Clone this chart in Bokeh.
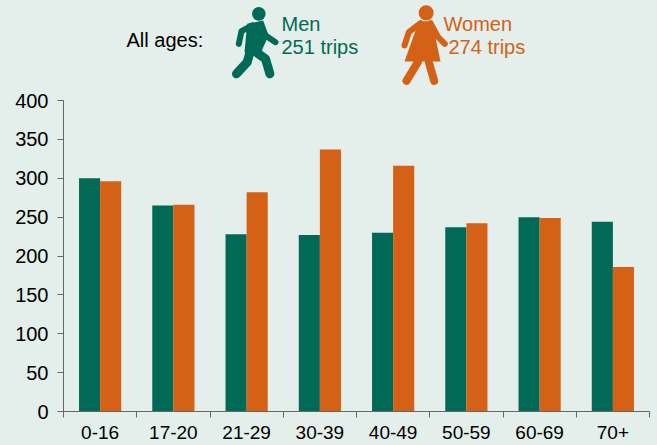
from bokeh.plotting import figure
from bokeh.layouts import column
from bokeh.models import Range1d, FixedTicker
from bokeh.core.properties import value
from bokeh.embed import file_html
from bokeh.resources import INLINE

categories = ["0-16", "17-20", "21-29", "30-39", "40-49", "50-59", "60-69", "70+"]
men = [300, 265, 228, 227, 230, 237, 250, 244]
women = [296, 266, 282, 337, 316, 242, 249, 186]
y_ticks = [0, 50, 100, 150, 200, 250, 300, 350, 400]

BG = "#E4EEEA"
GREEN = "#006A56"
ORANGE = "#D46115"
FONT = "Liberation Sans"
AXIS = "#666666"
W = 657
LEFT = 63
RIGHT = 8
HEAD_H = 88
CHART_H = 357

head = figure(width=W, height=HEAD_H, x_range=Range1d(LEFT, W - RIGHT), y_range=Range1d(HEAD_H, 0),
              output_backend="svg", toolbar_location=None, x_axis_location=None, y_axis_location=None,
              min_border_left=LEFT, min_border_right=RIGHT, min_border_top=0, min_border_bottom=0,
              outline_line_color=None, background_fill_color=BG, border_fill_color=BG)
head.grid.visible = False

def zx(v):
    return v / 3 + 110

def zy(v):
    return v / 3

def limb(points, color, width):
    head.line([zx(a) for a, b in points], [zy(b) for a, b in points], line_color=color,
              line_width=width, line_cap="round", line_join="round")

def dot(x, y, r, color):
    head.circle([zx(x)], [zy(y)], radius=r, fill_color=color, line_color=None)

# man
dot(445, 40, 6.8, GREEN)
head.patch([zx(a) for a in [410, 458, 474, 445, 402]], [zy(b) for b in [70, 60, 105, 170, 155]],
           fill_color=GREEN, line_color=None)
limb([(425, 75), (393, 92), (385, 130)], GREEN, 6)
limb([(450, 72), (465, 105), (495, 125)], GREEN, 6)
limb([(420, 150), (410, 185), (378, 220)], GREEN, 9)
limb([(430, 150), (465, 175), (478, 220)], GREEN, 9)

# woman
dot(947, 37, 7.5, ORANGE)
head.patch([zx(a) for a in [925, 965, 990, 882]], [zy(b) for b in [62, 62, 183, 183]],
           fill_color=ORANGE, line_color=None)
limb([(930, 68), (895, 95), (882, 135)], ORANGE, 6)
limb([(960, 68), (983, 110), (1003, 130)], ORANGE, 6)
limb([(922, 185), (888, 241)], ORANGE, 8)
limb([(955, 185), (971, 241)], ORANGE, 8)

def label(x, y, t, color):
    head.text([x], [y], text=[t], text_color=color, text_font=value(FONT),
              text_font_size="20px", text_baseline="middle", text_align="left")

label(126, 39, "All ages:", "#000000")
label(281, 23, "Men", GREEN)
label(281, 46, "251 trips", GREEN)
label(443, 23, "Women", ORANGE)
label(448, 46, "274 trips", ORANGE)

p = figure(width=W, height=CHART_H, x_range=Range1d(0, len(categories)), y_range=Range1d(0, 400),
           output_backend="svg", toolbar_location=None, min_border_left=LEFT, min_border_right=RIGHT,
           min_border_top=12, min_border_bottom=34, outline_line_color=None,
           background_fill_color=BG, border_fill_color=BG)
p.grid.visible = False
centers = [i + 0.5 for i in range(len(categories))]
bw = 0.288
p.vbar(x=[c - bw / 2 for c in centers], top=men, width=bw, bottom=0, fill_color=GREEN, line_color=None)
p.vbar(x=[c + bw / 2 for c in centers], top=women, width=bw, bottom=0, fill_color=ORANGE, line_color=None)

p.xaxis.ticker = FixedTicker(ticks=centers, minor_ticks=list(range(len(categories) + 1)))
p.xaxis.major_label_overrides = {c: n for c, n in zip(centers, categories)}
p.xaxis.major_tick_line_color = None
p.xaxis.minor_tick_line_color = AXIS
p.xaxis.minor_tick_in = 0
p.xaxis.minor_tick_out = 6
p.xaxis.major_label_standoff = 8
p.yaxis.ticker = FixedTicker(ticks=y_ticks)
p.yaxis.major_tick_in = 0
p.yaxis.major_tick_out = 6
p.yaxis.minor_tick_line_color = None
p.yaxis.major_label_standoff = 9
for ax in (p.xaxis, p.yaxis):
    ax.axis_line_color = AXIS
    ax.axis_line_width = 1
    ax.major_label_text_font = FONT
    ax.major_label_text_color = "#000000"
p.xaxis.major_label_text_font_size = "19px"
p.yaxis.major_label_text_font_size = "20px"
p.yaxis.major_tick_line_color = AXIS

page = column(head, p, spacing=0)
html = file_html(page, INLINE)
html = html.replace("<head>", "<head><style>html,body{background:%s;overflow:hidden}</style>" % BG, 1)
open("out.html", "w").write(html)
